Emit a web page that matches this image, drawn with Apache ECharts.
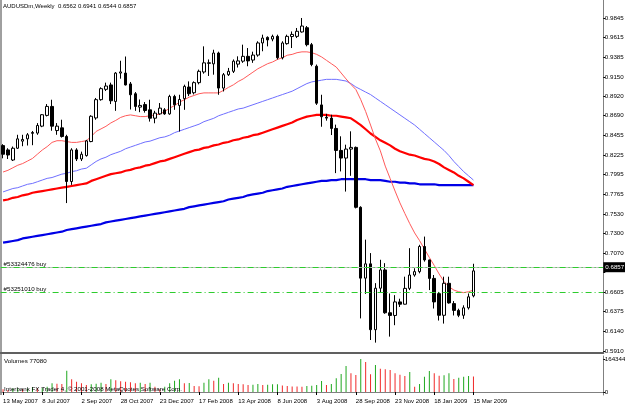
<!DOCTYPE html>
<html>
<head>
<meta charset="utf-8">
<script src="https://cdn.jsdelivr.net/npm/echarts/dist/echarts.min.js"></script>
<style>
html,body{margin:0;padding:0;background:#fff;}
#chart{width:625px;height:406px;}
</style>
</head>
<body>
<div id="chart"></div>
<script>
const symbol = 'AUDUSDm,Weekly'
const slots = 123
const labelEvery = 8
const dateLabels = ['13 May 2007', '8 Jul 2007', '2 Sep 2007', '28 Oct 2007', '23 Dec 2007', '17 Feb 2008',
  '13 Apr 2008', '8 Jun 2008', '3 Aug 2008', '28 Sep 2008', '23 Nov 2008', '18 Jan 2009', '15 Mar 2009']
const priceTicks = [0.9845, 0.9615, 0.9385, 0.9150, 0.8920, 0.8690, 0.8455, 0.8225, 0.7995, 0.7765,
  0.7530, 0.7300, 0.7070, 0.6840, 0.6605, 0.6375, 0.6140, 0.5910]
const volumeTicks = [0, 164344]

const opens = [
  0.8337, 0.8286, 0.8167, 0.8306, 0.8390, 0.8417, 0.8482, 0.8485, 0.8567, 0.8694,
  0.8800, 0.8515, 0.8547, 0.8445, 0.7913, 0.8286, 0.8179, 0.8219, 0.8385, 0.8664,
  0.8880, 0.9002, 0.9054, 0.8859, 0.9194, 0.9194, 0.9066, 0.8950, 0.8792, 0.8822,
  0.8760, 0.8661, 0.8712, 0.8760, 0.8712, 0.8918, 0.8812, 0.8892, 0.9029, 0.8962,
  0.9081, 0.9207, 0.9315, 0.9303, 0.9431, 0.9017, 0.9175, 0.9215, 0.9300, 0.9335,
  0.9392, 0.9348, 0.9407, 0.9550, 0.9616, 0.9596, 0.9628, 0.9375, 0.9542, 0.9626,
  0.9628, 0.9680, 0.9730, 0.9530, 0.9275, 0.8818, 0.8672, 0.8662, 0.8540, 0.8280,
  0.8190, 0.8296, 0.8316, 0.7608, 0.6771, 0.6940, 0.6162, 0.6652, 0.6868, 0.6362,
  0.6330, 0.6490, 0.6463, 0.6650, 0.6808, 0.6848, 0.7145, 0.6986, 0.6768, 0.6588,
  0.6332, 0.6710, 0.6470, 0.6390, 0.6332, 0.6420, 0.6562]
const highs = [
  0.8354, 0.8306, 0.8326, 0.8465, 0.8465, 0.8485, 0.8510, 0.8603, 0.8710, 0.8828,
  0.8879, 0.8603, 0.8643, 0.8465, 0.8306, 0.8306, 0.8266, 0.8405, 0.8696, 0.8900,
  0.9026, 0.9081, 0.9081, 0.9206, 0.9340, 0.9390, 0.9089, 0.8970, 0.8882, 0.8852,
  0.8879, 0.8748, 0.8840, 0.8780, 0.8938, 0.8938, 0.8938, 0.9057, 0.9096, 0.9096,
  0.9235, 0.9510, 0.9355, 0.9470, 0.9447, 0.9195, 0.9255, 0.9355, 0.9392, 0.9530,
  0.9490, 0.9447, 0.9570, 0.9648, 0.9628, 0.9648, 0.9648, 0.9570, 0.9648, 0.9686,
  0.9727, 0.9845, 0.9750, 0.9550, 0.9295, 0.8938, 0.8712, 0.8702, 0.8585, 0.8447,
  0.8348, 0.8506, 0.8326, 0.7620, 0.7226, 0.7067, 0.6712, 0.6988, 0.6948, 0.6590,
  0.6570, 0.6528, 0.6788, 0.7125, 0.6888, 0.7165, 0.7262, 0.6990, 0.6808, 0.6608,
  0.6788, 0.6788, 0.6500, 0.6410, 0.6450, 0.6590, 0.6941]
const lows = [
  0.8187, 0.8179, 0.8155, 0.8298, 0.8330, 0.8338, 0.8342, 0.8465, 0.8555, 0.8682,
  0.8513, 0.8465, 0.8432, 0.7658, 0.7873, 0.8155, 0.8155, 0.8207, 0.8377, 0.8643,
  0.8868, 0.8982, 0.8828, 0.8748, 0.9128, 0.9048, 0.8764, 0.8748, 0.8732, 0.8727,
  0.8621, 0.8601, 0.8701, 0.8701, 0.8701, 0.8760, 0.8503, 0.8760, 0.8922, 0.8942,
  0.9061, 0.9187, 0.9160, 0.9175, 0.8938, 0.8977, 0.9160, 0.9195, 0.9260, 0.9315,
  0.9275, 0.9315, 0.9388, 0.9452, 0.9510, 0.9570, 0.9355, 0.9355, 0.9530, 0.9490,
  0.9608, 0.9672, 0.9510, 0.9275, 0.8818, 0.8560, 0.8632, 0.8462, 0.8012, 0.8032,
  0.7794, 0.7980, 0.7595, 0.6295, 0.6585, 0.6040, 0.6009, 0.6600, 0.6350, 0.6080,
  0.6215, 0.6430, 0.6460, 0.6630, 0.6788, 0.6828, 0.6966, 0.6630, 0.6412, 0.6270,
  0.6234, 0.6470, 0.6330, 0.6310, 0.6290, 0.6400, 0.6544]
const closes = [
  0.8235, 0.8226, 0.8306, 0.8417, 0.8410, 0.8465, 0.8492, 0.8575, 0.8702, 0.8800,
  0.8567, 0.8567, 0.8445, 0.7913, 0.8286, 0.8179, 0.8235, 0.8393, 0.8684, 0.8880,
  0.9010, 0.9041, 0.8867, 0.9194, 0.9208, 0.9054, 0.8938, 0.8800, 0.8812, 0.8752,
  0.8661, 0.8721, 0.8780, 0.8712, 0.8918, 0.8820, 0.8882, 0.9037, 0.8950, 0.9081,
  0.9215, 0.9315, 0.9310, 0.9431, 0.9017, 0.9175, 0.9215, 0.9335, 0.9338, 0.9392,
  0.9338, 0.9407, 0.9550, 0.9608, 0.9586, 0.9628, 0.9375, 0.9550, 0.9628, 0.9651,
  0.9688, 0.9750, 0.9530, 0.9295, 0.8838, 0.8678, 0.8662, 0.8540, 0.8280, 0.8190,
  0.8296, 0.8316, 0.7608, 0.6771, 0.6940, 0.6162, 0.6652, 0.6868, 0.6362, 0.6330,
  0.6490, 0.6463, 0.6650, 0.6808, 0.6848, 0.7145, 0.6986, 0.6768, 0.6490, 0.6332,
  0.6710, 0.6478, 0.6390, 0.6332, 0.6420, 0.6550, 0.6857]

// moving averages
const maFast = [
  0.8025, 0.8045, 0.8075, 0.8105, 0.8125, 0.8155, 0.8185, 0.8235, 0.8285, 0.8325,
  0.8375, 0.8395, 0.8395, 0.8385, 0.8375, 0.8375, 0.8385, 0.8395, 0.8445, 0.8505,
  0.8535, 0.8565, 0.8605, 0.8635, 0.8670, 0.8690, 0.8700, 0.8690, 0.8680, 0.8680,
  0.8690, 0.8700, 0.8710, 0.8740, 0.8780, 0.8810, 0.8850, 0.8880, 0.8910, 0.8930,
  0.8950, 0.8960, 0.8960, 0.8960, 0.8960, 0.8990, 0.9025, 0.9055, 0.9095, 0.9125,
  0.9165, 0.9205, 0.9245, 0.9275, 0.9305, 0.9325, 0.9355, 0.9375, 0.9405, 0.9415,
  0.9435, 0.9445, 0.9445, 0.9435, 0.9415, 0.9385, 0.9345, 0.9305, 0.9265, 0.9195,
  0.9125, 0.9060, 0.9000, 0.8880, 0.8740, 0.8580, 0.8415, 0.8275, 0.8095, 0.7948,
  0.7800, 0.7660, 0.7535, 0.7415, 0.7305, 0.7215, 0.7115, 0.7015, 0.6920, 0.6820,
  0.6730, 0.6670, 0.6630, 0.6610, 0.6600, 0.6610, 0.6630]
const maMid = [
  0.779, 0.781, 0.783, 0.784, 0.786, 0.788, 0.789, 0.791, 0.793, 0.795,
  0.796, 0.798, 0.800, 0.801, 0.803, 0.804, 0.806, 0.807, 0.811, 0.815,
  0.818, 0.820, 0.823, 0.825, 0.827, 0.830, 0.832, 0.834, 0.836, 0.838,
  0.839, 0.841, 0.843, 0.844, 0.846, 0.849, 0.851, 0.853, 0.855, 0.857,
  0.859, 0.862, 0.864, 0.866, 0.869, 0.871, 0.873, 0.875, 0.877, 0.878,
  0.880, 0.882, 0.884, 0.886, 0.888, 0.890, 0.892, 0.894, 0.896, 0.898,
  0.901, 0.904, 0.907, 0.909, 0.910, 0.911, 0.912, 0.912, 0.912, 0.911,
  0.910, 0.907, 0.903, 0.900, 0.897, 0.894, 0.890, 0.886, 0.882, 0.878,
  0.874, 0.870, 0.866, 0.862, 0.858, 0.853, 0.848, 0.843, 0.838, 0.833,
  0.828, 0.822, 0.815, 0.809, 0.803, 0.798, 0.793]
const maSlow = [
  0.769, 0.770, 0.772, 0.773, 0.775, 0.776, 0.778, 0.779, 0.780, 0.781,
  0.782, 0.783, 0.784, 0.785, 0.786, 0.787, 0.788, 0.789, 0.792, 0.794,
  0.796, 0.798, 0.800, 0.801, 0.802, 0.804, 0.805, 0.807, 0.808, 0.810,
  0.811, 0.813, 0.815, 0.816, 0.818, 0.820, 0.822, 0.824, 0.826, 0.828,
  0.829, 0.831, 0.832, 0.834, 0.835, 0.837, 0.838, 0.840, 0.841, 0.843,
  0.844, 0.846, 0.847, 0.849, 0.851, 0.853, 0.855, 0.857, 0.859, 0.861,
  0.864, 0.866, 0.868, 0.869, 0.870, 0.870, 0.870, 0.869, 0.869, 0.868,
  0.867, 0.866, 0.862, 0.858, 0.853, 0.848, 0.844, 0.840, 0.837, 0.834,
  0.830, 0.827, 0.825, 0.823, 0.822, 0.820, 0.818, 0.817, 0.815, 0.812,
  0.808, 0.805, 0.802, 0.798, 0.795, 0.791, 0.787]
const maLong = [
  0.719, 0.720, 0.721, 0.722, 0.724, 0.725, 0.726, 0.727, 0.728, 0.729,
  0.730, 0.731, 0.732, 0.734, 0.735, 0.736, 0.737, 0.738, 0.739, 0.740,
  0.741, 0.743, 0.744, 0.745, 0.746, 0.747, 0.748, 0.749, 0.750, 0.751,
  0.752, 0.753, 0.754, 0.755, 0.756, 0.757, 0.758, 0.759, 0.761, 0.762,
  0.763, 0.764, 0.765, 0.766, 0.767, 0.768, 0.770, 0.771, 0.772, 0.773,
  0.775, 0.776, 0.777, 0.778, 0.780, 0.781, 0.782, 0.783, 0.785, 0.786,
  0.787, 0.788, 0.789, 0.790, 0.791, 0.792, 0.792, 0.793, 0.793, 0.794,
  0.794, 0.794, 0.794, 0.794, 0.794, 0.793, 0.793, 0.793, 0.792, 0.791,
  0.791, 0.790, 0.790, 0.789, 0.789, 0.788, 0.788, 0.788, 0.788, 0.787,
  0.787, 0.787, 0.787, 0.787, 0.787, 0.787, 0.787]

const volumes = [
  13280, 9960, 18260, 19000, 15000, 17000, 23240, 18260, 20000, 26560,
  43160, 41500, 39840, 106240, 63080, 51460, 43160, 34860, 38000, 41000,
  46480, 39840, 63080, 58000, 54000, 51000, 48000, 44000, 46000, 40000,
  46480, 26560, 13280, 26560, 43160, 56440, 63080, 43160, 45000, 30000,
  29000, 46480, 63080, 56440, 71380, 39840, 46480, 43000, 40000, 38000,
  34860, 36500, 39840, 34860, 36000, 38180, 39000, 32000, 30000, 28000,
  27000, 26000, 29880, 31540, 34860, 54780, 34860, 39840, 68060, 89640,
  129480, 92960, 84660, 164344, 149400, 87980, 134460, 116200, 112880, 109560,
  92960, 86320, 79680, 99600, 26560, 39840, 76360, 104580, 92960, 81340,
  83000, 92960, 64740, 71380, 76360, 79680, 77080]

const bid = 0.6857
const orderTickets = ['#53324476', '#53251010']
const orderPrices = [0.6853, 0.6643]

const font = 'Liberation Sans'
const fsAxis = 6.2
const fsDate = 6
const fsText = 6.2
const fsTitle = 6
const last = opens.length - 1
const candles = opens.map((o, i) => [o, closes[i], lows[i], highs[i]])
const volData = volumes.map((v, i) => ({
  value: v,
  itemStyle: { color: i > 0 && v > volumes[i - 1] ? '#1fa81f' : '#f02828' }
}))
const cats = Array.from({ length: slots }, (_, i) => i)
const isLabelSlot = (i) => i % labelEvery === 0 && i / labelEvery < dateLabels.length
// the bid box hides the scale label it sits on
const priceLabel = (v) => (Math.abs(v - bid) < 0.005 ? '' : v.toFixed(4))

const chart = echarts.init(document.getElementById('chart'), null, { renderer: 'canvas' })
chart.setOption({
  animation: false,
  backgroundColor: '#fff',
  textStyle: { fontFamily: font },
  grid: [
    { left: 0.6, right: 21.7, top: 0, height: 353, outerBoundsMode: 'none', containLabel: false },
    { left: 0.6, right: 21.7, top: 356, height: 39, outerBoundsMode: 'none', containLabel: false }
  ],
  xAxis: [
    {
      type: 'category', gridIndex: 0, data: cats, boundaryGap: true,
      axisLine: { show: true, lineStyle: { color: '#606060', width: 2 } },
      axisTick: { show: false }, axisLabel: { show: false }, splitLine: { show: false }
    },
    {
      type: 'category', gridIndex: 1, data: cats, boundaryGap: true,
      axisLine: { show: true, lineStyle: { color: '#808080', width: 1 } },
      axisTick: { show: true, alignWithLabel: true, length: 3, interval: (i) => isLabelSlot(i), lineStyle: { color: '#000' } },
      axisLabel: {
        show: true, interval: (i) => isLabelSlot(i), align: 'left', margin: 3,
        fontSize: fsDate, color: '#000', fontFamily: font,
        formatter: (v, i) => dateLabels[i / labelEvery] || ''
      },
      splitLine: { show: false }
    }
  ],
  yAxis: [
    {
      type: 'value', gridIndex: 0, position: 'right', min: 0.58864, max: 1.00577,
      axisLine: { show: true, lineStyle: { color: '#808080' } },
      axisTick: { show: true, length: 2, customValues: priceTicks, lineStyle: { color: '#000' } },
      axisLabel: { show: true, customValues: priceTicks, margin: 1.5, fontSize: fsAxis, color: '#000', fontFamily: font, formatter: priceLabel },
      splitLine: { show: false }
    },
    {
      type: 'value', gridIndex: 1, position: 'right', min: -14940, max: 179284,
      axisLine: { show: true, lineStyle: { color: '#808080' } },
      axisTick: { show: true, length: 2, customValues: volumeTicks, lineStyle: { color: '#000' } },
      axisLabel: { show: true, customValues: volumeTicks, margin: 1.5, fontSize: fsAxis, color: '#000', fontFamily: font, formatter: (v) => String(v) },
      splitLine: { show: false }
    }
  ],
  series: [
    {
      type: 'line', name: 'maLong', xAxisIndex: 0, yAxisIndex: 0, data: maLong,
      showSymbol: false, lineStyle: { color: '#0000e6', width: 2.2 }, z: 2
    },
    {
      type: 'line', name: 'maSlow', xAxisIndex: 0, yAxisIndex: 0, data: maSlow,
      showSymbol: false, lineStyle: { color: '#ff0000', width: 2.2 }, z: 2
    },
    {
      type: 'line', name: 'maMid', xAxisIndex: 0, yAxisIndex: 0, data: maMid,
      showSymbol: false, lineStyle: { color: '#6f6fff', width: 1 }, z: 2
    },
    {
      type: 'line', name: 'maFast', xAxisIndex: 0, yAxisIndex: 0, data: maFast,
      showSymbol: false, lineStyle: { color: '#ff5a5a', width: 1 }, z: 2
    },
    {
      type: 'candlestick', name: symbol, xAxisIndex: 0, yAxisIndex: 0, data: candles,
      barWidth: 3, z: 3,
      itemStyle: { color: '#fff', color0: '#000', borderColor: '#000', borderColor0: '#000', borderWidth: 1 },
      markLine: {
        silent: true, symbol: ['none', 'none'], animation: false,
        data: [
          {
            yAxis: bid,
            lineStyle: { color: '#c0c0c0', type: 'solid', width: 1 },
            label: {
              show: true, position: 'end', distance: 0, formatter: bid.toFixed(4),
              backgroundColor: '#000', color: '#fff', padding: [2, 3, 2, 2], fontSize: fsAxis, fontFamily: font
            }
          },
          ...orderPrices.map((p, i) => ({
            yAxis: p,
            lineStyle: { color: '#2ecc2e', type: [6, 3, 1, 3], width: 1 },
            label: {
              show: true, position: 'insideStartTop', distance: [3, 0], formatter: orderTickets[i] + ' buy',
              color: '#000', fontSize: fsText, fontFamily: font
            }
          }))
        ]
      }
    },
    {
      type: 'bar', name: 'Volumes', xAxisIndex: 1, yAxisIndex: 1, data: volData,
      barWidth: 1, z: 2
    }
  ],
  graphic: [
    { type: 'line', shape: { x1: 1, y1: 0, x2: 1, y2: 395 }, style: { stroke: '#404040', lineWidth: 1 }, silent: true },
    {
      type: 'text', left: 3, top: 3, silent: true,
      style: { text: symbol + '  ' + [opens[last], highs[last], lows[last], closes[last]].map((v) => v.toFixed(4)).join(' '), fill: '#000', font: fsTitle + 'px ' + font }
    },
    {
      type: 'text', left: 4, top: 358, silent: true,
      style: { text: 'Volumes ' + volumes[last], fill: '#000', font: fsText + 'px ' + font }
    },
    {
      type: 'text', left: 4, top: 386, silent: true, z: 100,
      style: { text: 'Interbank FX Trader 4, © 2001-2008 MetaQuotes Software Corp.', fill: '#000', font: fsText + 'px ' + font }
    }
  ]
})
</script>
</body>
</html>
